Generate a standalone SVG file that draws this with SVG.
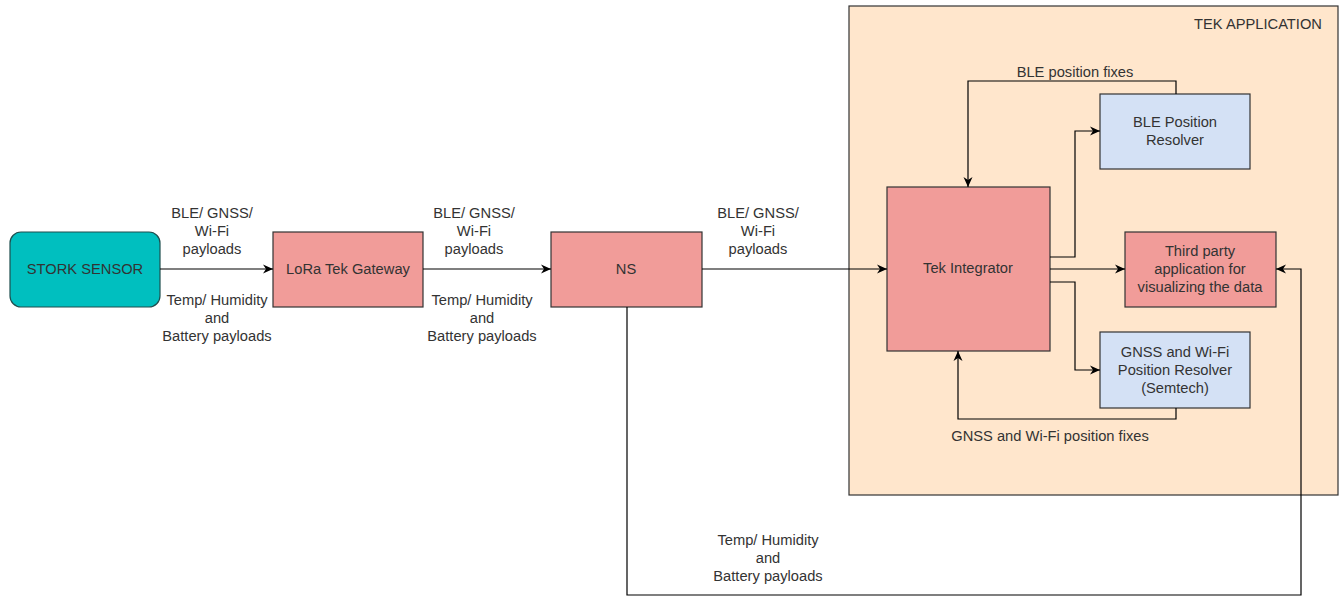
<svg xmlns="http://www.w3.org/2000/svg" width="1340" height="596" viewBox="0 0 1340 596">
<style>
  text { font-family: "Liberation Sans", Arial, sans-serif; font-size: 14.7px; fill: #333333; text-anchor: middle; }
  .pink { fill: #F19C99; stroke: #333333; stroke-width: 1.2; }
  .blue { fill: #D4E1F5; stroke: #333333; stroke-width: 1.2; }
  .teal { fill: #00BFBF; stroke: #1f4f4f; stroke-width: 1.2; }
  .cont { fill: #FFE6CC; stroke: #333333; stroke-width: 1.2; }
  .edge { fill: none; stroke: #000000; stroke-width: 1.2; }
</style>
<defs>
  <marker id="arr" viewBox="0 0 10 10" refX="10" refY="5" markerWidth="10" markerHeight="10" markerUnits="userSpaceOnUse" orient="auto">
    <path d="M0,0.5 L10,5 L0,9.5 L3,5 Z" fill="#000000"/>
  </marker>
</defs>
<rect width="1340" height="596" fill="#ffffff"/>

<g id="tek-application">
  <rect class="cont" x="849" y="6" width="489" height="489"/>
  <text x="1258" y="29">TEK APPLICATION</text>
</g>

<g id="stork-sensor">
  <rect class="teal" x="10" y="232" width="150" height="75" rx="11"/>
  <text x="85" y="274">STORK SENSOR</text>
</g>
<g id="lora-gateway">
  <rect class="pink" x="273" y="232" width="150" height="75"/>
  <text x="348" y="274">LoRa Tek Gateway</text>
</g>
<g id="ns">
  <rect class="pink" x="551" y="232" width="151" height="75"/>
  <text x="626" y="274">NS</text>
</g>
<g id="tek-integrator">
  <rect class="pink" x="887" y="187" width="163" height="164"/>
  <text x="968" y="273">Tek Integrator</text>
</g>
<g id="ble-resolver">
  <rect class="blue" x="1100" y="94" width="150" height="75"/>
  <text x="1175" y="127">BLE Position</text>
  <text x="1175" y="145">Resolver</text>
</g>
<g id="third-party">
  <rect class="pink" x="1125" y="232" width="151" height="75"/>
  <text x="1200" y="256">Third party</text>
  <text x="1200" y="274">application for</text>
  <text x="1200" y="292">visualizing the data</text>
</g>
<g id="gnss-resolver">
  <rect class="blue" x="1100" y="332" width="150" height="76"/>
  <text x="1175" y="357">GNSS and Wi-Fi</text>
  <text x="1175" y="375">Position Resolver</text>
  <text x="1175" y="393">(Semtech)</text>
</g>

<g id="connectors">
  <path class="edge" d="M160,269 L273,269" marker-end="url(#arr)"/>
  <path class="edge" d="M423,269 L551,269" marker-end="url(#arr)"/>
  <path class="edge" d="M702,269 L887,269" marker-end="url(#arr)"/>
  <path class="edge" d="M1176,94 L1176,81 L968,81 L968,187" marker-end="url(#arr)"/>
  <path class="edge" d="M1050,257 L1075,257 L1075,131 L1100,131" marker-end="url(#arr)"/>
  <path class="edge" d="M1050,269 L1125,269" marker-end="url(#arr)"/>
  <path class="edge" d="M1050,282 L1075,282 L1075,370 L1100,370" marker-end="url(#arr)"/>
  <path class="edge" d="M1176,408 L1176,419 L958,419 L958,351" marker-end="url(#arr)"/>
  <path class="edge" d="M627,307 L627,595 L1301,595 L1301,269 L1276,269" marker-end="url(#arr)"/>

  <g id="edge-labels">
    <text x="212" y="218">BLE/ GNSS/</text>
    <text x="212" y="236">Wi-Fi</text>
    <text x="212" y="254">payloads</text>
    <text x="217" y="305">Temp/ Humidity</text>
    <text x="217" y="323">and</text>
    <text x="217" y="341">Battery payloads</text>

    <text x="474" y="218">BLE/ GNSS/</text>
    <text x="474" y="236">Wi-Fi</text>
    <text x="474" y="254">payloads</text>
    <text x="482" y="305">Temp/ Humidity</text>
    <text x="482" y="323">and</text>
    <text x="482" y="341">Battery payloads</text>

    <text x="758" y="218">BLE/ GNSS/</text>
    <text x="758" y="236">Wi-Fi</text>
    <text x="758" y="254">payloads</text>

    <text x="1075" y="77">BLE position fixes</text>
    <text x="1050" y="441">GNSS and Wi-Fi position fixes</text>

    <text x="768" y="545">Temp/ Humidity</text>
    <text x="768" y="563">and</text>
    <text x="768" y="581">Battery payloads</text>
  </g>
</g>
</svg>
